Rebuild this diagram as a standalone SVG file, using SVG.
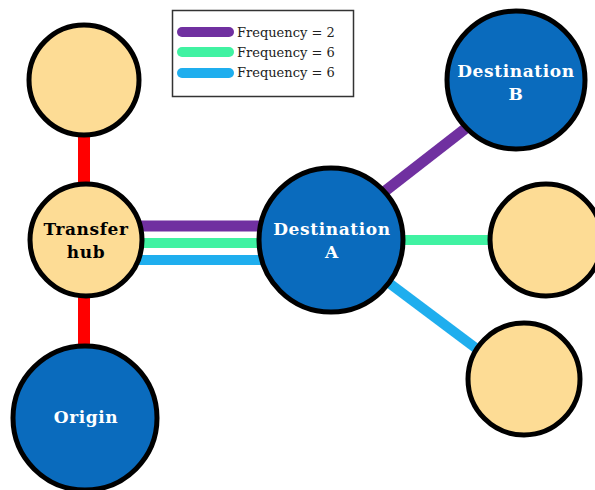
<svg xmlns="http://www.w3.org/2000/svg" width="595" height="490" viewBox="0 0 595 490">
<style>
.blue{fill:#0A6BBD;stroke:#000;stroke-width:5}
.tan{fill:#FDDC95;stroke:#000;stroke-width:5}
.lbl{font-family:"DejaVu Serif",serif;font-weight:bold;font-size:17px;letter-spacing:0.6px;text-anchor:middle}
.w{fill:#fff}
.k{fill:#000}
.leg{font-family:"DejaVu Serif",serif;font-size:13px;fill:#222}
.c{fill:none}
</style>
<rect width="595" height="490" fill="#fff"/>
<g id="connectors" class="c">
<line x1="84" y1="120" x2="84" y2="200" stroke="#FF0000" stroke-width="12"/>
<line x1="84" y1="280" x2="84" y2="360" stroke="#FF0000" stroke-width="12"/>
<line x1="130" y1="226" x2="270" y2="226" stroke="#7030A0" stroke-width="11"/>
<line x1="130" y1="243" x2="270" y2="243" stroke="#40F2A2" stroke-width="10"/>
<line x1="130" y1="260" x2="270" y2="260" stroke="#1FAEEE" stroke-width="10"/>
<line x1="380" y1="195" x2="470" y2="125" stroke="#7030A0" stroke-width="11"/>
<line x1="395" y1="240" x2="495" y2="240" stroke="#40F2A2" stroke-width="10"/>
<line x1="385" y1="280" x2="485" y2="355" stroke="#1FAEEE" stroke-width="10"/>
</g>
<g id="legend">
<rect x="172.5" y="10.5" width="181" height="86" fill="#fff" stroke="#333" stroke-width="1.5"/>
<line x1="182" y1="32" x2="229" y2="32" stroke="#7030A0" stroke-width="10" stroke-linecap="round"/>
<line x1="182" y1="52" x2="229" y2="52" stroke="#40F2A2" stroke-width="10" stroke-linecap="round"/>
<line x1="182" y1="73" x2="229" y2="73" stroke="#1FAEEE" stroke-width="10" stroke-linecap="round"/>
<text class="leg" x="237" y="37">Frequency = 2</text>
<text class="leg" x="237" y="57">Frequency = 6</text>
<text class="leg" x="237" y="77">Frequency = 6</text>
</g>
<g id="node-top-left"><circle class="tan" cx="84" cy="80" r="55"/></g>
<g id="node-transfer-hub"><circle class="tan" cx="86" cy="240" r="56"/>
<text class="lbl k" x="86" y="235">Transfer</text><text class="lbl k" x="86" y="258">hub</text></g>
<g id="node-origin"><circle class="blue" cx="85" cy="418" r="72"/>
<text class="lbl w" x="86" y="423">Origin</text></g>
<g id="node-destination-a"><circle class="blue" cx="331" cy="240" r="72"/>
<text class="lbl w" x="332" y="235">Destination</text><text class="lbl w" x="332" y="258">A</text></g>
<g id="node-destination-b"><circle class="blue" cx="516" cy="80" r="69"/>
<text class="lbl w" x="516" y="77">Destination</text><text class="lbl w" x="516" y="100">B</text></g>
<g id="node-right-middle"><circle class="tan" cx="546" cy="240" r="56"/></g>
<g id="node-bottom-right"><circle class="tan" cx="524" cy="379" r="56"/></g>
</svg>
